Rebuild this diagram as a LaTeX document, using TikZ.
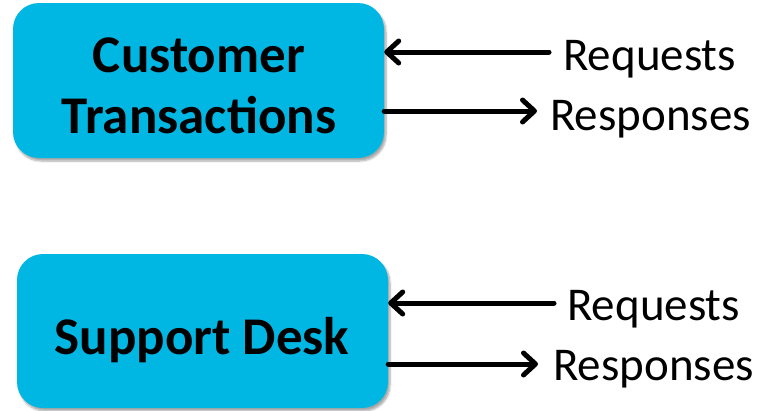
\documentclass[tikz,border=0pt]{standalone}
\usepackage{fontspec}
\setmainfont{Carlito}
\usetikzlibrary{arrows.meta,shadows.blur}
\definecolor{boxcyan}{RGB}{0,183,228}
\tikzset{
  bluebox/.style={fill=boxcyan, rounded corners=26pt, draw=none,
    blur shadow={shadow xshift=2pt, shadow yshift=-3pt, shadow blur steps=6, shadow opacity=35}},
  boxtext/.style={font=\fontsize{53}{62}\selectfont\bfseries, align=center, inner sep=0pt},
  lbl/.style={font=\fontsize{47}{50}\selectfont, anchor=base west, inner sep=0pt},
  arr/.style={line width=5pt, line cap=round,
    -{Straight Barb[length=12pt, width=22pt, line cap=round, line join=round]}}
}
\begin{document}
\begin{tikzpicture}[x=1pt, y=-1pt]
\useasboundingbox (0,0) rectangle (774,410);
% boxes
\path[bluebox] (13,3) rectangle (384,158);
\node[inner sep=0pt, minimum width=371pt, minimum height=155pt] (box1) at (198.5,80.5) {};
\path[bluebox] (17,254) rectangle (388,408);
\node[inner sep=0pt, minimum width=371pt, minimum height=154pt] (box2) at (202.5,331) {};
% box texts
\node[boxtext, anchor=base] (t1a) at (199,72) {Customer};
\node[boxtext, anchor=base] (t1b) at (199,133) {Transactions};
\node[boxtext, anchor=base] (t2) at (202,354) {Support Desk};
% labels
\node[lbl] (req1) at (563,70) {Requests};
\node[lbl] (res1) at (550,130) {Responses};
\node[lbl] (req2) at (567,320) {Requests};
\node[lbl] (res2) at (553,380) {Responses};
% arrow helper coordinates
\coordinate (a1) at (549,52);
\coordinate (a2) at (537,111);
\coordinate (a3) at (554,303);
\coordinate (a4) at (538,364);
% connectors
\draw[arr] (a1) -- (box1.east |- a1);
\draw[arr] (box1.east |- a2) -- (a2);
\draw[arr] (a3) -- (box2.east |- a3);
\draw[arr] (box2.east |- a4) -- (a4);
\end{tikzpicture}
\end{document}
